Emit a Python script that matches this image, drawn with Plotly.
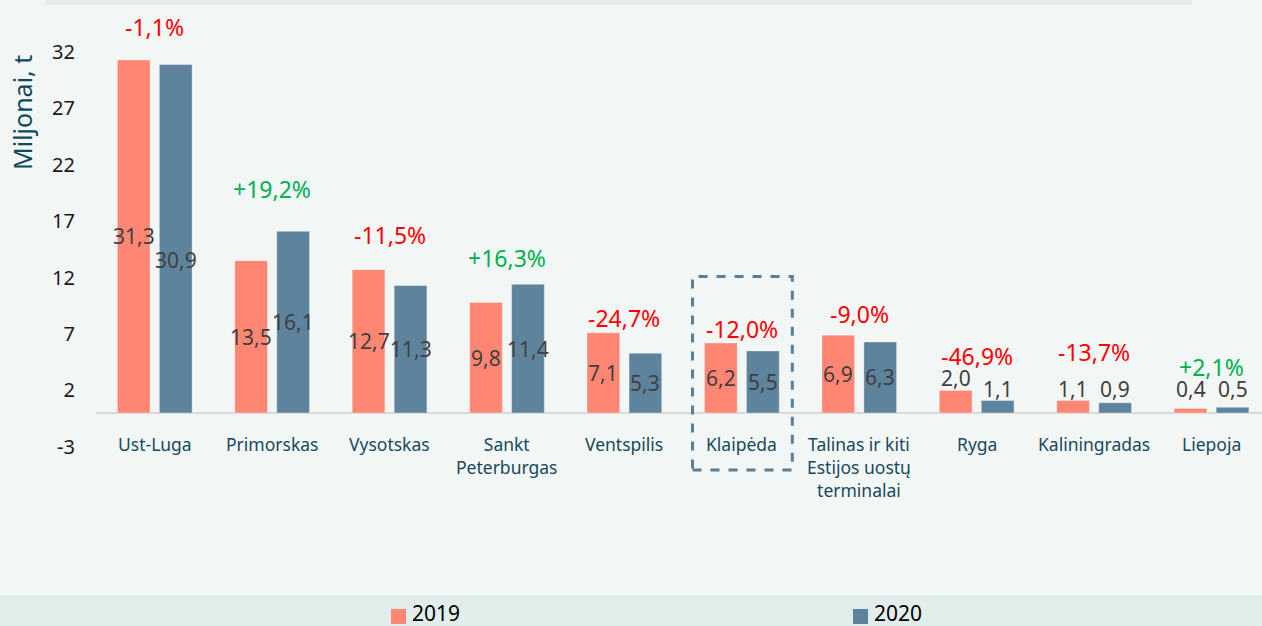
import plotly.graph_objects as go

# ---------------- data ----------------
categories = ["Ust-Luga", "Primorskas", "Vysotskas", "Sankt<br>Peterburgas", "Ventspilis",
              "Klaipėda", "Talinas ir kiti<br>Estijos uostų<br>terminalai", "Ryga",
              "Kaliningradas", "Liepoja"]
values_2019 = [31.3, 13.5, 12.7, 9.8, 7.1, 6.2, 6.9, 2.0, 1.1, 0.4]
values_2020 = [30.9, 16.1, 11.3, 11.4, 5.3, 5.5, 6.3, 1.1, 0.9, 0.5]
change_pct = ["-1,1%", "+19,2%", "-11,5%", "+16,3%", "-24,7%", "-12,0%", "-9,0%",
              "-46,9%", "-13,7%", "+2,1%"]
y_ticks = [-3, 2, 7, 12, 17, 22, 27, 32]
y_tick_text = ["-3", "2", "7", "12", "17", "22", "27", "32"]
series_names = ["2019", "2020"]

# ---------------- style / layout constants ----------------
W, H = 1262, 626
M_L, M_R, M_T, M_B = 96, 0, 52, 151
PLOT_W = W - M_L - M_R
PLOT_H = H - M_T - M_B
C_2019 = "#FF8673"
C_2020 = "#5E849D"
BG = "#F2F6F5"
FONT = "Noto Sans, Open Sans, sans-serif"
TEXT_DARK = "#404040"
CAT_COLOR = "#17495E"
# manual label placement (px) mimicking the original chart's label layout
pct_offsets_px = [33, 42, 35, 26, 15, 14, 21, 34, 49, 40]
val2020_shift_px = [-21, 0, 0, 0, 0, 0, 0, 0, 0, 0]
SMALL_VALUE = 3.0


def px_x(p):
    return (p - M_L) / PLOT_W


def px_y(p):
    return (H - M_B - p) / PLOT_H


x_idx = list(range(len(categories)))

fig = go.Figure()
fig.add_bar(x=x_idx, y=values_2019, name=series_names[0], marker_color=C_2019,
            marker_line_color="rgba(255,255,255,0.35)", marker_line_width=1)
fig.add_bar(x=x_idx, y=values_2020, name=series_names[1], marker_color=C_2020,
            marker_line_color="rgba(255,255,255,0.35)", marker_line_width=1)

annotations = []
slot_px = (1 - 0.2845) * (PLOT_W / 9.93) / 2
for i, cat in enumerate(categories):
    # value labels
    for v, sgn, extra in ((values_2019[i], -1, 0), (values_2020[i], 1, val2020_shift_px[i])):
        txt = f"{v:.1f}".replace(".", ",")
        if v >= SMALL_VALUE:
            annotations.append(dict(x=i, y=v / 2, text=txt, showarrow=False,
                                    xshift=sgn * slot_px / 2, yshift=extra,
                                    yanchor="middle", xanchor="center",
                                    font=dict(family=FONT, size=21, color=TEXT_DARK)))
        else:
            annotations.append(dict(x=i, y=max(v, 1.1), text=txt, showarrow=False,
                                    xshift=sgn * slot_px / 2, yshift=-4,
                                    yanchor="bottom", xanchor="center",
                                    font=dict(family=FONT, size=21, color=TEXT_DARK)))
    # percentage labels
    pc = change_pct[i]
    col = "#00B050" if pc.startswith("+") else "#FF0000"
    annotations.append(dict(x=i, y=max(values_2019[i], values_2020[i]), text=pc,
                            showarrow=False, yshift=pct_offsets_px[i], yanchor="middle",
                            xanchor="center", font=dict(family=FONT, size=23, color=col)))
    # category labels
    annotations.append(dict(x=i, y=0, text=cat, showarrow=False, yshift=-17,
                            yanchor="top", xanchor="center", align="center",
                            font=dict(family=FONT, size=17.5, color=CAT_COLOR)))

# y axis title
annotations.append(dict(xref="paper", yref="paper", x=px_x(22), y=px_y(113),
                        text="Miljonai, t", textangle=-90, showarrow=False,
                        xanchor="center", yanchor="middle",
                        font=dict(family=FONT, size=25, color="#0F4A5E")))

# legend (manual)
legend_items = [(series_names[0], C_2019, 391), (series_names[1], C_2020, 853)]
shapes = []
# top panel strip
shapes.append(dict(type="rect", xref="paper", yref="paper", x0=px_x(45), x1=px_x(1192),
                   y0=px_y(5), y1=px_y(-5), fillcolor="#E4EDEB", line_width=0, layer="below"))
# legend band
shapes.append(dict(type="rect", xref="paper", yref="paper", x0=px_x(0), x1=px_x(W),
                   y0=px_y(H + 2), y1=px_y(595), fillcolor="#E1EDEA", line_width=0, layer="below"))
for name, col, xp in legend_items:
    shapes.append(dict(type="rect", xref="paper", yref="paper", x0=px_x(xp), x1=px_x(xp + 15),
                       y0=px_y(624), y1=px_y(609), fillcolor=col, line_width=0))
    annotations.append(dict(xref="paper", yref="paper", x=px_x(xp + 19), y=px_y(613),
                            text=name, showarrow=False, xanchor="left", yanchor="middle",
                            font=dict(family=FONT, size=21, color="#000000")))

# highlight box around Klaipėda
k = categories.index("Klaipėda")
shapes.append(dict(type="rect", xref="x", yref="y", x0=k - 0.42, x1=k + 0.43,
                   y0=-5.05, y1=12.1, line=dict(color="#5B7F97", width=3, dash="dash"),
                   fillcolor="rgba(0,0,0,0)"))

fig.update_layout(
    width=W, height=H,
    margin=dict(l=M_L, r=M_R, t=M_T, b=M_B, pad=0),
    paper_bgcolor=BG, plot_bgcolor=BG,
    barmode="group", bargap=0.2845, bargroupgap=0.221,
    showlegend=False,
    annotations=annotations, shapes=shapes,
    xaxis=dict(range=[-0.5, 9.43], showticklabels=False, showgrid=False,
               zeroline=False, showline=False, ticks=""),
    yaxis=dict(range=[-5.5, 32], tickvals=y_ticks, ticktext=y_tick_text, showgrid=False,
               zeroline=True, zerolinecolor="#D9D9D9", zerolinewidth=2, showline=False,
               ticks="", ticklabelstandoff=20,
               tickfont=dict(family=FONT, size=20, color="#1A1A1A")),
)

fig.write_html(
    "out.html",
    config={"displayModeBar": False},
    post_script="document.body.style.margin='0';document.body.style.background='%s';" % BG,
)
